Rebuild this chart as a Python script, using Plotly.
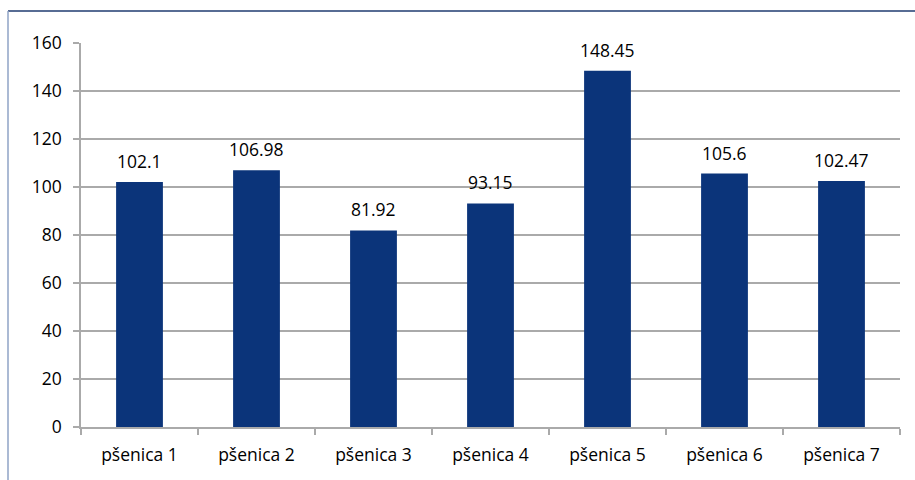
import plotly.graph_objects as go

categories = ["pšenica 1", "pšenica 2", "pšenica 3", "pšenica 4", "pšenica 5", "pšenica 6", "pšenica 7"]
values = [102.1, 106.98, 81.92, 93.15, 148.45, 105.6, 102.47]
labels = ["102.1", "106.98", "81.92", "93.15", "148.45", "105.6", "102.47"]
y_ticks = [0, 20, 40, 60, 80, 100, 120, 140, 160]

W, H = 915, 480
L, R, T, B = 81, 15, 43, 53
pw, ph = W - L - R, H - T - B
FONT = "Open Sans"

def px(x):
    return (x - L) / pw

def py(y):
    return (H - B - y) / ph

fig = go.Figure(go.Bar(
    x=categories, y=values,
    marker=dict(color="#0B347A", line=dict(width=0)),
    width=0.4,
))

annotations = [
    dict(x=c, y=v, text=t, showarrow=False, xanchor="center", yanchor="bottom", yshift=7,
         font=dict(size=17.5, color="#000000", family=FONT))
    for c, v, t in zip(categories, values, labels)
]

fig.update_layout(
    width=W, height=H, margin=dict(l=L, r=R, t=T, b=B),
    paper_bgcolor="white", plot_bgcolor="white",
    showlegend=False,
    font=dict(family=FONT, size=17.5, color="#000000"),
    annotations=annotations,
    shapes=[
        dict(type="line", xref="paper", yref="paper", x0=px(8), x1=px(920), y0=py(11), y1=py(11),
             line=dict(color="#1F3B70", width=1.5)),
        dict(type="line", xref="paper", yref="paper", x0=px(8), x1=px(8), y0=py(11), y1=py(485),
             line=dict(color="#8FA3C6", width=1.5)),
    ],
)
fig.update_yaxes(range=[0, 160], tickvals=y_ticks, showgrid=True, gridcolor="#AAAAAA", gridwidth=1.5,
                 showline=True, linecolor="#AAAAAA", linewidth=1.5, ticks="outside", ticklen=6,
                 tickcolor="#AAAAAA", tickwidth=1.5, zeroline=False, tickfont=dict(size=17.5),
                 ticklabelstandoff=8)
fig.update_xaxes(showline=True, linecolor="#AAAAAA", linewidth=1.5, ticks="outside", ticklen=6,
                 tickcolor="#AAAAAA", tickwidth=1.5, tickson="boundaries", tickfont=dict(size=17.5),
                 ticklabelstandoff=11)

fig.write_html("out.html")
